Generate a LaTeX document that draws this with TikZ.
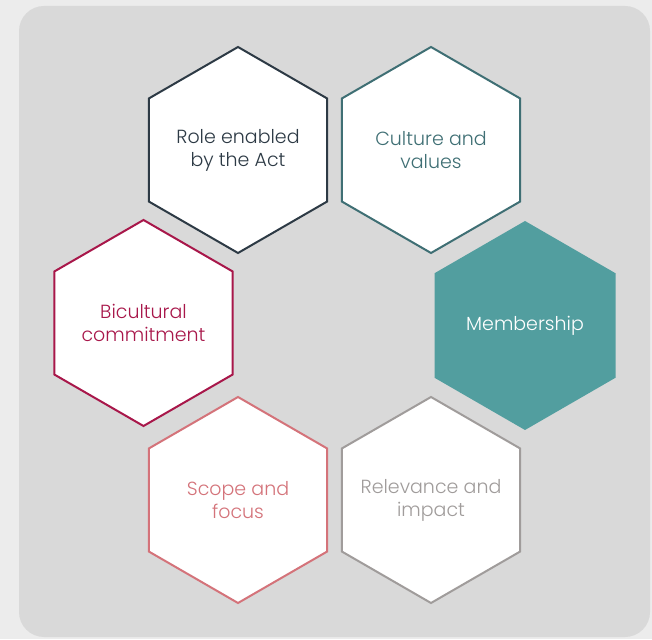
\documentclass[tikz,border=0pt]{standalone}
\usepackage{fontspec}
\setmainfont{Poppins}[UprightFont=* Light]
\usetikzlibrary{shapes.geometric}
\definecolor{pagebg}{HTML}{ECECEC}
\definecolor{panelbg}{HTML}{D9D9D9}
\definecolor{slate}{HTML}{2D3A45}
\definecolor{deepteal}{HTML}{3F6F74}
\definecolor{crimson}{HTML}{A8174A}
\definecolor{memberfill}{HTML}{529E9F}
\definecolor{rose}{HTML}{D4737A}
\definecolor{warmgray}{HTML}{A09C9B}
\tikzset{
  hexcell/.style={regular polygon, regular polygon sides=6, shape border rotate=30,
    minimum size=206pt, inner sep=-20pt, line width=2pt, fill=white, align=center,
    font=\fontsize{19}{23}\selectfont}
}
\begin{document}
\begin{tikzpicture}[x=1pt,y=1pt]
  \fill[pagebg] (0,0) rectangle (652,639);
  \useasboundingbox (0,0) rectangle (652,639);
  \fill[panelbg, rounded corners=25pt] (19,2) rectangle (650,633);

  \node[hexcell, draw=slate, text=slate] (role) at (238,489) {Role enabled\\by the Act};
  \node[hexcell, draw=deepteal, text=deepteal] (culture) at (431,489) {Culture and\\values};
  \node[hexcell, draw=crimson, text=crimson] (bicultural) at (143.5,316) {Bicultural\\commitment};
  \node[hexcell, draw=none, fill=memberfill, text=white, minimum size=209pt] (membership) at (525,313.5) {Membership};
  \node[hexcell, draw=rose, text=rose] (scope) at (238,139) {Scope and\\focus};
  \node[hexcell, draw=warmgray, text=warmgray] (relevance) at (431,139) {Relevance and\\impact};
\end{tikzpicture}
\end{document}
